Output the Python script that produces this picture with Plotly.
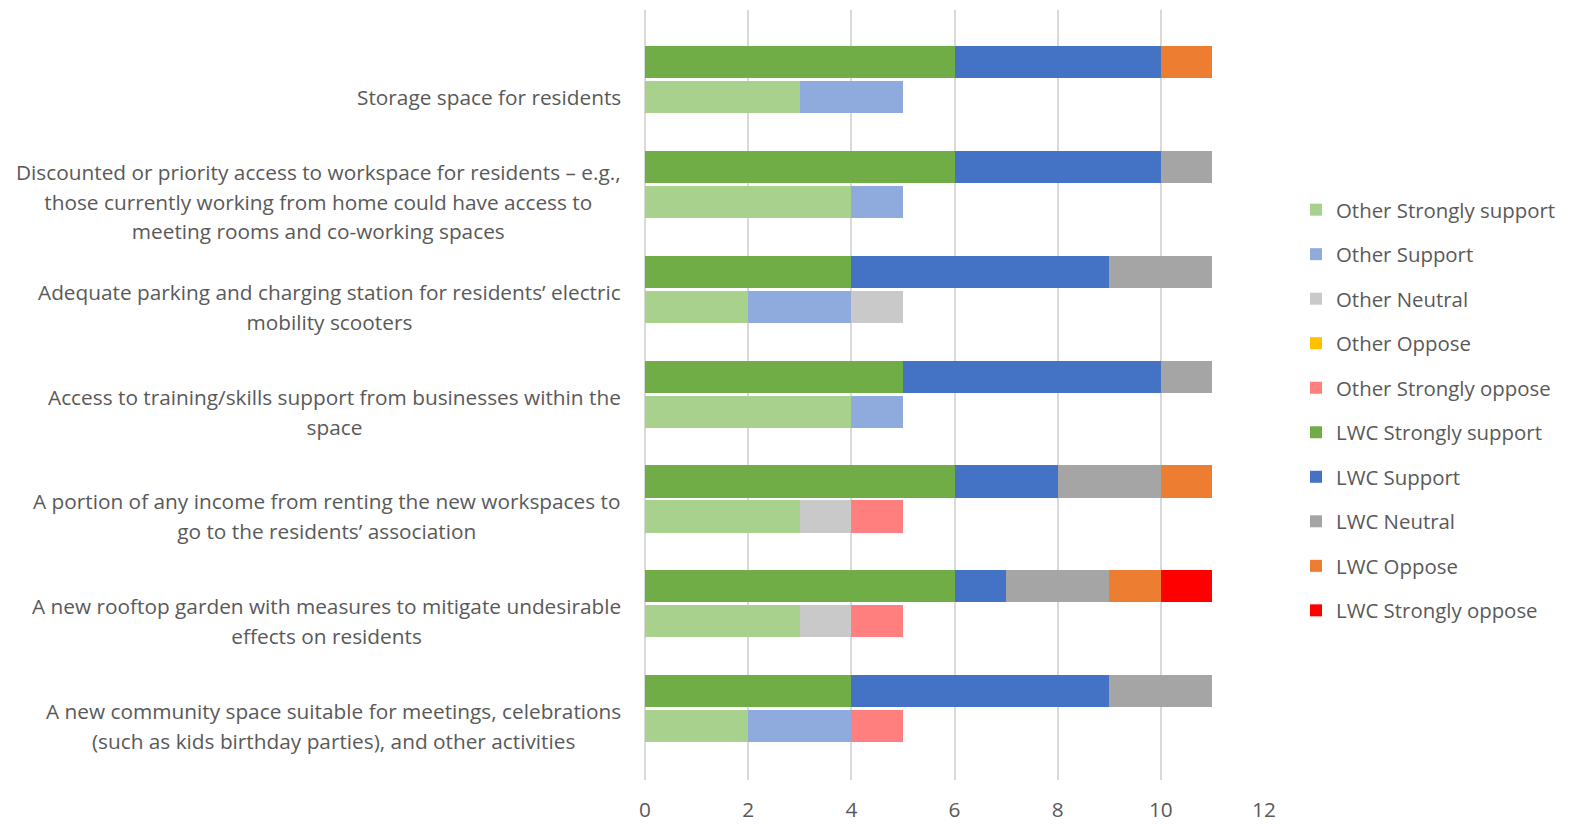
import plotly.graph_objects as go

# Survey items, top to bottom
categories = [
    "Storage space for residents",
    "Discounted or priority access to workspace for residents – e.g.,<br>those currently working from home could have access to<br>meeting rooms and co-working spaces",
    "Adequate parking and charging station for residents’ electric<br>mobility scooters",
    "Access to training/skills support from businesses within the<br>space",
    "A portion of any income from renting the new workspaces to<br>go to the residents’ association",
    "A new rooftop garden with measures to mitigate undesirable<br>effects on residents",
    "A new community space suitable for meetings, celebrations<br>(such as kids birthday parties), and other activities",
]

# Responses from other respondents
other_strongly_support = [3, 4, 2, 4, 3, 3, 2]
other_support          = [2, 1, 2, 1, 0, 0, 2]
other_neutral          = [0, 0, 1, 0, 1, 1, 0]
other_oppose           = [0, 0, 0, 0, 0, 0, 0]
other_strongly_oppose  = [0, 0, 0, 0, 1, 1, 1]

# Responses from LWC respondents
lwc_strongly_support = [6, 6, 4, 5, 6, 6, 4]
lwc_support          = [4, 4, 5, 5, 2, 1, 5]
lwc_neutral          = [0, 1, 2, 1, 2, 2, 2]
lwc_oppose           = [1, 0, 0, 0, 1, 1, 0]
lwc_strongly_oppose  = [0, 0, 0, 0, 0, 1, 0]

x_ticks = [0, 2, 4, 6, 8, 10, 12]

series = [
    ("Other Strongly support", other_strongly_support, "#A9D18E", "other"),
    ("Other Support", other_support, "#8FAADC", "other"),
    ("Other Neutral", other_neutral, "#C9C9C9", "other"),
    ("Other Oppose", other_oppose, "#FFC000", "other"),
    ("Other Strongly oppose", other_strongly_oppose, "#FF7F7F", "other"),
    ("LWC Strongly support", lwc_strongly_support, "#70AD47", "lwc"),
    ("LWC Support", lwc_support, "#4472C4", "lwc"),
    ("LWC Neutral", lwc_neutral, "#A5A5A5", "lwc"),
    ("LWC Oppose", lwc_oppose, "#ED7D31", "lwc"),
    ("LWC Strongly oppose", lwc_strongly_oppose, "#FF0000", "lwc"),
]

# Each item gets two rows: LWC on top, Other just below
n = len(categories)
lwc_pos = [3 * i for i in range(n)]
other_pos = [3 * i + 1 for i in range(n)]

FONT = "Open Sans"
TEXT = "#595959"
FS = 20.8
LEGEND_FS = 20.4

fig = go.Figure()
for name, vals, color, grp in series:
    fig.add_trace(go.Bar(
        x=vals,
        y=lwc_pos if grp == "lwc" else other_pos,
        orientation="h",
        name=name,
        legendgroup=name,
        marker=dict(color=color, line=dict(width=0)),
        width=0.92,
    ))

# Category labels: centred lines, right-aligned block beside the Other row
for pos, label in zip(other_pos, categories):
    lines = label.split("<br>")
    txt = "<br>".join(f"<span style='font-size:{FS}px'>{ln}</span>" for ln in lines)
    fig.add_annotation(
        x=0, xref="paper", y=pos, yref="y",
        xanchor="right", yanchor="middle", xshift=-22,
        text=txt, showarrow=False, align="center",
        font=dict(family=FONT, size=22.7, color=TEXT),
    )

fig.update_layout(
    width=1570, height=824,
    margin=dict(l=645, r=305, t=10, b=44),
    barmode="stack",
    plot_bgcolor="white", paper_bgcolor="white",
    font=dict(family=FONT, size=FS, color=TEXT),
    legend=dict(
        x=1.05, xanchor="left", y=0.48, yanchor="middle",
        traceorder="grouped", tracegroupgap=15,
        font=dict(family=FONT, size=LEGEND_FS, color=TEXT),
    ),
    xaxis=dict(
        range=[0, 12], tickvals=x_ticks, showgrid=True,
        gridcolor="#D9D9D9", gridwidth=2, zeroline=True,
        zerolinecolor="#D9D9D9", zerolinewidth=2, showline=False,
        ticks="", ticklabelstandoff=15, automargin=False,
        tickfont=dict(family=FONT, size=FS, color=TEXT),
    ),
    yaxis=dict(
        range=[20.54, -1.49], showticklabels=False, showgrid=False,
        zeroline=False, showline=False, ticks="", automargin=False,
    ),
)

fig.write_html("out.html")
